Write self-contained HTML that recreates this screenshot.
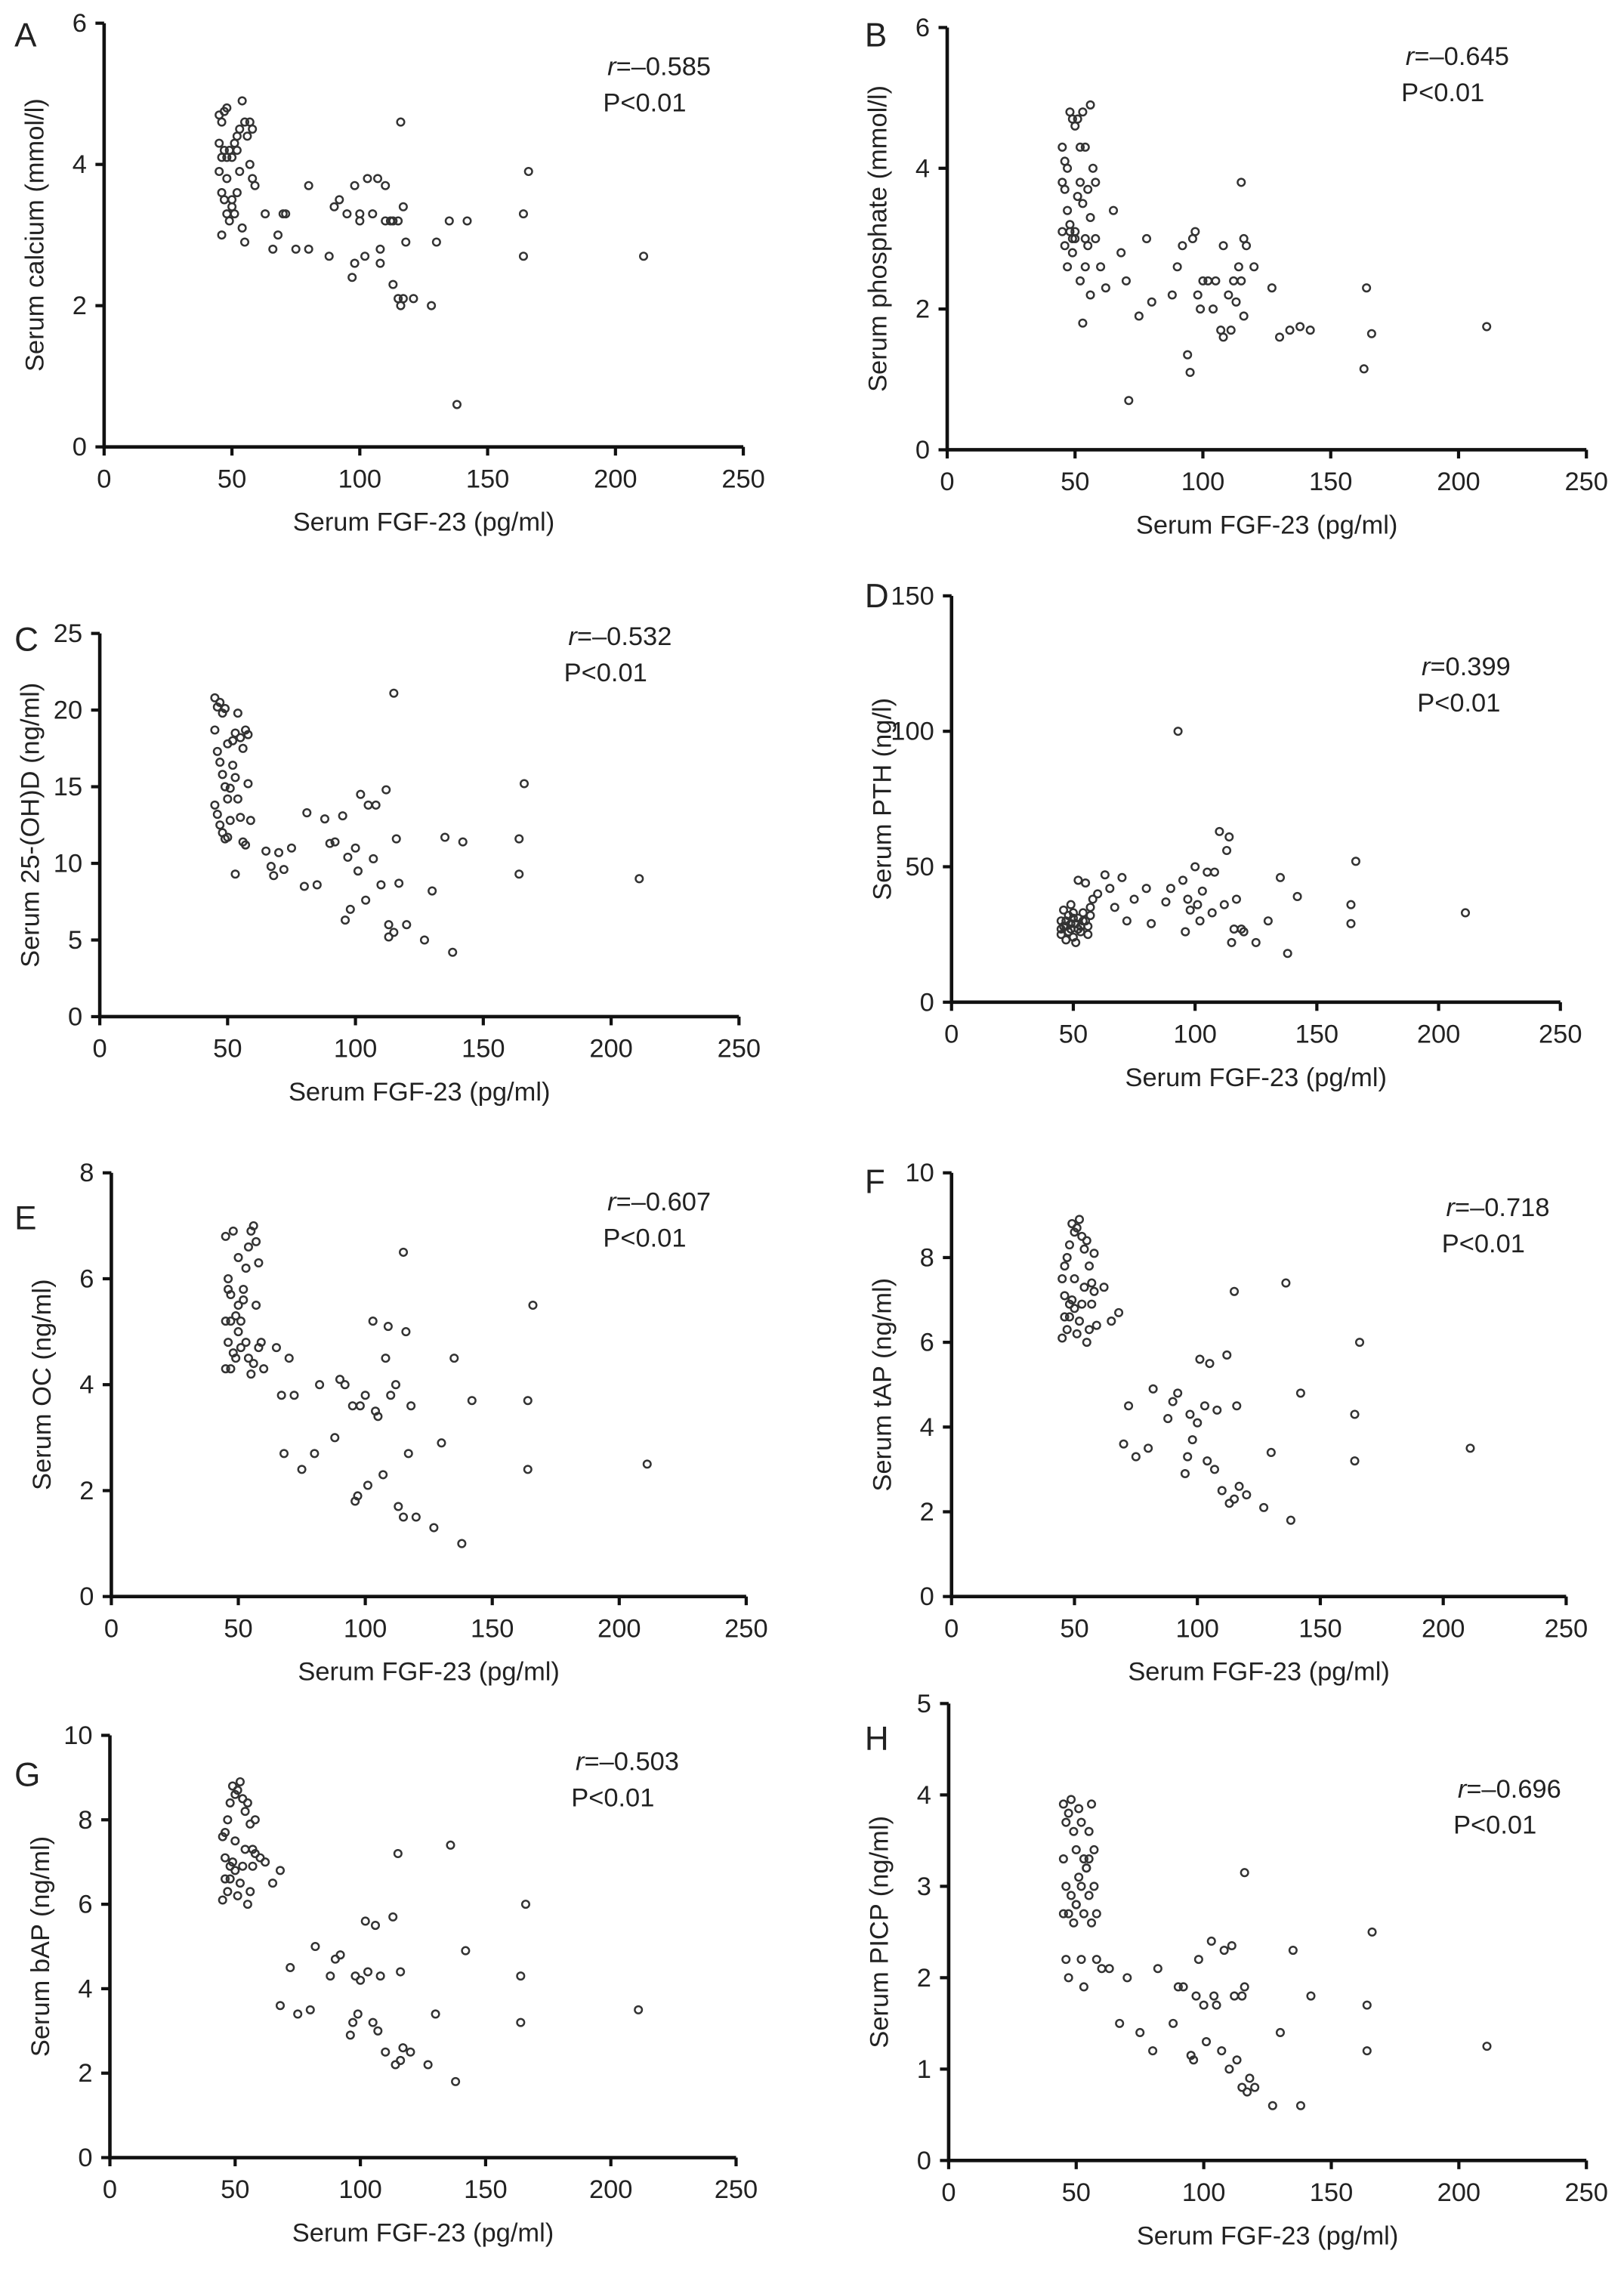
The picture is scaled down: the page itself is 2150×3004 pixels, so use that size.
<!DOCTYPE html>
<html><head><meta charset="utf-8"><style>
html,body{margin:0;padding:0;background:#fff}
svg{display:block}
text{font-family:"Liberation Sans",Arial,sans-serif;fill:#222}
</style></head><body>
<svg id="chart" width="2150" height="3004" viewBox="0 0 1123 1569" xmlns="http://www.w3.org/2000/svg"></svg>
<script>
const xTicks=[0,50,100,150,200,250];
const panelLetters=["A","B","C","D","E","F","G","H"];
const yTitles=["Serum calcium (mmol/l)","Serum phosphate (mmol/l)","Serum 25-(OH)D (ng/ml)","Serum PTH (ng/l)","Serum OC (ng/ml)","Serum tAP (ng/ml)","Serum bAP (ng/ml)","Serum PICP (ng/ml)"];
const rLabels=["r=\u20130.585","r=\u20130.645","r=\u20130.532","r=0.399","r=\u20130.607","r=\u20130.718","r=\u20130.503","r=\u20130.696"];
const yTicksA=[0,2,4,6],yTicksB=[0,2,4,6],yTicksC=[0,5,10,15,20,25],yTicksD=[0,50,100,150],yTicksE=[0,2,4,6,8],yTicksF=[0,2,4,6,8,10],yTicksG=[0,2,4,6,8,10],yTicksH=[0,1,2,3,4,5];
const dataA=[[45,4.7],[46,4.6],[47,4.75],[48,4.8],[45,4.3],[46,4.1],[47,4.2],[48,4.1],[49,4.2],[50,4.1],[51,4.3],[45,3.9],[46,3.6],[47,3.5],[48,3.3],[49,3.2],[50,3.4],[51,3.3],[52,3.6],[53,4.5],[54,4.9],[55,4.6],[56,4.4],[57,4.6],[58,4.5],[52,4.2],[53,3.9],[54,3.1],[55,2.9],[57,4.0],[58,3.8],[59,3.7],[46,3.0],[48,3.8],[50,3.5],[52,4.4],[63,3.3],[66,2.8],[68,3.0],[70,3.3],[71,3.3],[75,2.8],[80,3.7],[80,2.8],[88,2.7],[90,3.4],[92,3.5],[95,3.3],[97,2.4],[98,2.6],[98,3.7],[100,3.3],[100,3.2],[102,2.7],[103,3.8],[105,3.3],[107,3.8],[108,2.8],[108,2.6],[110,3.2],[110,3.7],[112,3.2],[113,2.3],[113,3.2],[115,3.2],[115,2.1],[116,4.6],[116,2.0],[117,3.4],[117,2.1],[118,2.9],[121,2.1],[128,2.0],[130,2.9],[135,3.2],[138,0.6],[142,3.2],[164,3.3],[164,2.7],[166,3.9],[211,2.7]];
const dataB=[[45,4.3],[46,4.1],[47,4.0],[48,4.8],[49,4.7],[50,4.6],[51,4.7],[52,4.3],[53,4.8],[54,4.3],[56,4.9],[45,3.8],[46,3.7],[47,3.4],[48,3.2],[49,3.0],[50,3.1],[51,3.6],[52,3.8],[53,3.5],[54,3.0],[55,3.7],[56,3.3],[57,4.0],[58,3.8],[45,3.1],[46,2.9],[47,2.6],[48,3.1],[49,2.8],[50,3.0],[52,2.4],[53,1.8],[54,2.6],[55,2.9],[56,2.2],[58,3.0],[60,2.6],[62,2.3],[65,3.4],[68,2.8],[70,2.4],[71,0.7],[75,1.9],[78,3.0],[80,2.1],[88,2.2],[90,2.6],[92,2.9],[94,1.35],[95,1.1],[96,3.0],[97,3.1],[98,2.2],[99,2.0],[100,2.4],[102,2.4],[104,2.0],[105,2.4],[107,1.7],[108,1.6],[108,2.9],[110,2.2],[111,1.7],[112,2.4],[113,2.1],[114,2.6],[115,3.8],[115,2.4],[116,3.0],[116,1.9],[117,2.9],[120,2.6],[127,2.3],[130,1.6],[134,1.7],[138,1.75],[142,1.7],[163,1.15],[164,2.3],[166,1.65],[211,1.75]];
const dataC=[[45,20.8],[46,20.2],[47,20.5],[48,19.8],[49,20.1],[45,18.7],[46,17.3],[47,16.6],[48,15.8],[49,15.0],[50,14.2],[45,13.8],[46,13.2],[47,12.5],[48,12.0],[49,11.6],[50,11.7],[51,12.8],[52,18.0],[53,18.5],[54,19.8],[55,18.2],[56,17.5],[57,18.7],[58,18.4],[52,16.4],[53,15.6],[54,14.2],[55,13.0],[56,11.4],[57,11.2],[58,15.2],[53,9.3],[59,12.8],[51,14.9],[50,17.8],[65,10.8],[67,9.8],[68,9.2],[70,10.7],[72,9.6],[75,11.0],[80,8.5],[81,13.3],[85,8.6],[88,12.9],[90,11.3],[92,11.4],[95,13.1],[96,6.3],[97,10.4],[98,7.0],[100,11.0],[101,9.5],[102,14.5],[104,7.6],[105,13.8],[107,10.3],[108,13.8],[110,8.6],[112,14.8],[113,6.0],[113,5.2],[115,21.1],[115,5.5],[116,11.6],[117,8.7],[120,6.0],[127,5.0],[130,8.2],[135,11.7],[138,4.2],[142,11.4],[164,11.6],[164,9.3],[166,15.2],[211,9.0]];
const dataD=[[45,25],[46,28],[47,30],[48,32],[49,27],[50,24],[51,29],[52,31],[53,26],[54,33],[55,30],[56,28],[57,35],[58,38],[45,30],[46,34],[47,23],[48,26],[49,36],[50,33],[51,22],[52,45],[53,28],[54,30],[55,44],[56,25],[57,32],[45,27],[47,28],[49,29],[50,31],[52,27],[60,40],[63,47],[65,42],[67,35],[70,46],[72,30],[75,38],[80,42],[82,29],[88,37],[90,42],[93,100],[95,45],[96,26],[97,38],[98,34],[100,50],[101,36],[102,30],[103,41],[105,48],[107,33],[108,48],[110,63],[112,36],[113,56],[114,61],[115,22],[116,27],[117,38],[119,27],[120,26],[125,22],[130,30],[135,46],[138,18],[142,39],[164,36],[164,29],[166,52],[211,33]];
const dataE=[[45,6.8],[46,6.0],[47,5.7],[48,6.9],[49,5.3],[50,5.0],[51,4.7],[52,5.8],[53,6.2],[54,6.6],[55,6.9],[56,7.0],[57,6.7],[58,6.3],[45,5.2],[46,4.8],[47,4.3],[48,4.6],[49,4.5],[50,5.5],[51,5.2],[52,5.6],[53,4.8],[54,4.5],[55,4.2],[56,4.4],[57,5.5],[58,4.7],[45,4.3],[46,5.8],[47,5.2],[50,6.4],[59,4.8],[60,4.3],[65,4.7],[67,3.8],[68,2.7],[70,4.5],[72,3.8],[75,2.4],[80,2.7],[82,4.0],[88,3.0],[90,4.1],[92,4.0],[95,3.6],[96,1.8],[97,1.9],[98,3.6],[100,3.8],[101,2.1],[103,5.2],[104,3.5],[105,3.4],[107,2.3],[108,4.5],[109,5.1],[110,3.8],[112,4.0],[113,1.7],[115,6.5],[115,1.5],[116,5.0],[117,2.7],[118,3.6],[120,1.5],[127,1.3],[130,2.9],[135,4.5],[138,1.0],[142,3.7],[164,3.7],[164,2.4],[166,5.5],[211,2.5]];
const dataF=[[45,6.1],[46,7.8],[47,8.0],[48,8.3],[49,8.8],[50,8.6],[51,8.7],[52,8.9],[53,8.5],[54,8.2],[55,8.4],[56,7.8],[57,7.4],[58,8.1],[45,7.5],[46,7.1],[47,6.3],[48,6.6],[49,7.0],[50,6.8],[51,6.2],[52,6.5],[53,6.9],[54,7.3],[55,6.0],[56,6.3],[57,6.9],[58,7.2],[59,6.4],[46,6.6],[48,6.9],[50,7.5],[62,7.3],[65,6.5],[68,6.7],[70,3.6],[72,4.5],[75,3.3],[80,3.5],[82,4.9],[88,4.2],[90,4.6],[92,4.8],[95,2.9],[96,3.3],[97,4.3],[98,3.7],[100,4.1],[101,5.6],[103,4.5],[104,3.2],[105,5.5],[107,3.0],[108,4.4],[110,2.5],[112,5.7],[113,2.2],[115,7.2],[115,2.3],[116,4.5],[117,2.6],[120,2.4],[127,2.1],[130,3.4],[136,7.4],[138,1.8],[142,4.8],[164,4.3],[164,3.2],[166,6.0],[211,3.5]];
const dataG=[[45,6.1],[46,7.7],[47,8.0],[48,8.4],[49,8.8],[50,8.6],[51,8.7],[52,8.9],[53,8.5],[54,8.2],[55,8.4],[56,7.9],[57,7.3],[58,8.0],[45,7.6],[46,7.1],[47,6.3],[48,6.6],[49,7.0],[50,6.8],[51,6.2],[52,6.5],[53,6.9],[54,7.3],[55,6.0],[56,6.3],[57,6.9],[58,7.2],[60,7.1],[46,6.6],[48,6.9],[50,7.5],[62,7.0],[65,6.5],[68,6.8],[68,3.6],[72,4.5],[75,3.4],[80,3.5],[82,5.0],[88,4.3],[90,4.7],[92,4.8],[96,2.9],[97,3.2],[98,4.3],[99,3.4],[100,4.2],[102,5.6],[103,4.4],[105,3.2],[106,5.5],[107,3.0],[108,4.3],[110,2.5],[113,5.7],[114,2.2],[115,7.2],[116,2.3],[116,4.4],[117,2.6],[120,2.5],[127,2.2],[130,3.4],[136,7.4],[138,1.8],[142,4.9],[164,4.3],[164,3.2],[166,6.0],[211,3.5]];
const dataH=[[45,3.9],[46,3.7],[47,3.8],[48,3.95],[49,3.6],[50,3.4],[51,3.85],[52,3.7],[53,3.3],[54,3.2],[55,3.6],[56,3.9],[57,3.4],[45,3.3],[46,3.0],[47,2.7],[48,2.9],[49,2.6],[50,2.8],[51,3.1],[52,3.0],[53,2.7],[54,3.2],[55,2.9],[56,2.6],[57,3.0],[58,2.7],[45,2.7],[46,2.2],[47,2.0],[50,2.8],[52,2.2],[53,1.9],[55,3.3],[58,2.2],[60,2.1],[63,2.1],[67,1.5],[70,2.0],[75,1.4],[80,1.2],[82,2.1],[88,1.5],[90,1.9],[92,1.9],[95,1.15],[96,1.1],[97,1.8],[98,2.2],[100,1.7],[101,1.3],[103,2.4],[104,1.8],[105,1.7],[107,1.2],[108,2.3],[110,1.0],[111,2.35],[112,1.8],[113,1.1],[115,1.8],[115,0.8],[116,3.15],[116,1.9],[117,0.75],[118,0.9],[120,0.8],[127,0.6],[130,1.4],[135,2.3],[138,0.6],[142,1.8],[164,1.7],[164,1.2],[166,2.5],[211,1.25]];
const allData=[dataA,dataB,dataC,dataD,dataE,dataF,dataG,dataH];
const allYTicks=[yTicksA,yTicksB,yTicksC,yTicksD,yTicksE,yTicksF,yTicksG,yTicksH];
const frames=[
 {x0:72,x1:514,yt:16,yb:309,lx:10,ly:32,rx:420,ry:52},
 {x0:655,x1:1097,yt:19,yb:311,lx:598,ly:32,rx:972,ry:45},
 {x0:69,x1:511,yt:438,yb:703,lx:10,ly:450,rx:393,ry:446},
 {x0:658,x1:1079,yt:412,yb:693,lx:598,ly:420,rx:983,ry:467},
 {x0:77,x1:516,yt:811,yb:1104,lx:10,ly:850,rx:420,ry:837},
 {x0:658,x1:1083,yt:811,yb:1104,lx:598,ly:825,rx:1000,ry:841},
 {x0:76,x1:509,yt:1200,yb:1492,lx:10,ly:1235,rx:398,ry:1224},
 {x0:656,x1:1097,yt:1178,yb:1494,lx:598,ly:1210,rx:1008,ry:1243}];
const NS="http://www.w3.org/2000/svg";
const svg=document.getElementById('chart');
function mk(tag,attrs,parent){const e=document.createElementNS(NS,tag);for(const k in attrs)e.setAttribute(k,attrs[k]);parent.appendChild(e);return e;}
frames.forEach((f,i)=>{
 const yt=allYTicks[i];const ymax=yt[yt.length-1];
 const sx=v=>f.x0+(v/250)*(f.x1-f.x0);
 const sy=v=>f.yb-(v/ymax)*(f.yb-f.yt);
 const g=mk('g',{},svg);
 
 
 const L=mk('text',{x:f.lx,y:f.ly,'font-size':23},g);L.textContent=panelLetters[i];
 
 
 const ax=mk('path',{d:`M${f.x0} ${f.yt}V${f.yb}H${f.x1}`,stroke:'#111','stroke-width':2.4,fill:'none'},g);
 
 
 yt.forEach(t=>{
  mk('line',{x1:f.x0-6,x2:f.x0,y1:sy(t),y2:sy(t),stroke:'#111','stroke-width':2.2},g);
  const tx=mk('text',{x:f.x0-12,y:sy(t)+6,'font-size':18,'text-anchor':'end'},g);tx.textContent=t;
  
  
 });
 xTicks.forEach(t=>{
  mk('line',{x1:sx(t),x2:sx(t),y1:f.yb,y2:f.yb+6,stroke:'#111','stroke-width':2.2},g);
  const tx=mk('text',{x:sx(t),y:f.yb+28,'font-size':18,'text-anchor':'middle'},g);tx.textContent=t;
  
  
 });
 const xt=mk('text',{x:(f.x0+f.x1)/2,y:f.yb+58,'font-size':18,'text-anchor':'middle'},g);xt.textContent='Serum FGF-23 (pg/ml)';
 
 
 const cy=(f.yt+f.yb)/2;
 const ytl=mk('text',{x:f.x0-42,y:cy,'font-size':18,'text-anchor':'middle',transform:`rotate(-90 ${f.x0-42} ${cy})`},g);ytl.textContent=yTitles[i];
 
 
 const r=mk('text',{x:f.rx,y:f.ry,'font-size':18},g);
 const ri=mk('tspan',{'font-style':'italic'},r);ri.textContent='r';
 const rr=mk('tspan',{},r);rr.textContent=rLabels[i].slice(1);
 
 
 const p=mk('text',{x:f.rx-3,y:f.ry+25,'font-size':18},g);p.textContent='P<0.01';
 
 
 allData[i].forEach(d=>{
  const c=mk('circle',{cx:sx(d[0]),cy:sy(d[1]),r:2.5,fill:'none',stroke:'#333','stroke-width':1.3},g);
  
  
 });
});
</script>
</body></html>
